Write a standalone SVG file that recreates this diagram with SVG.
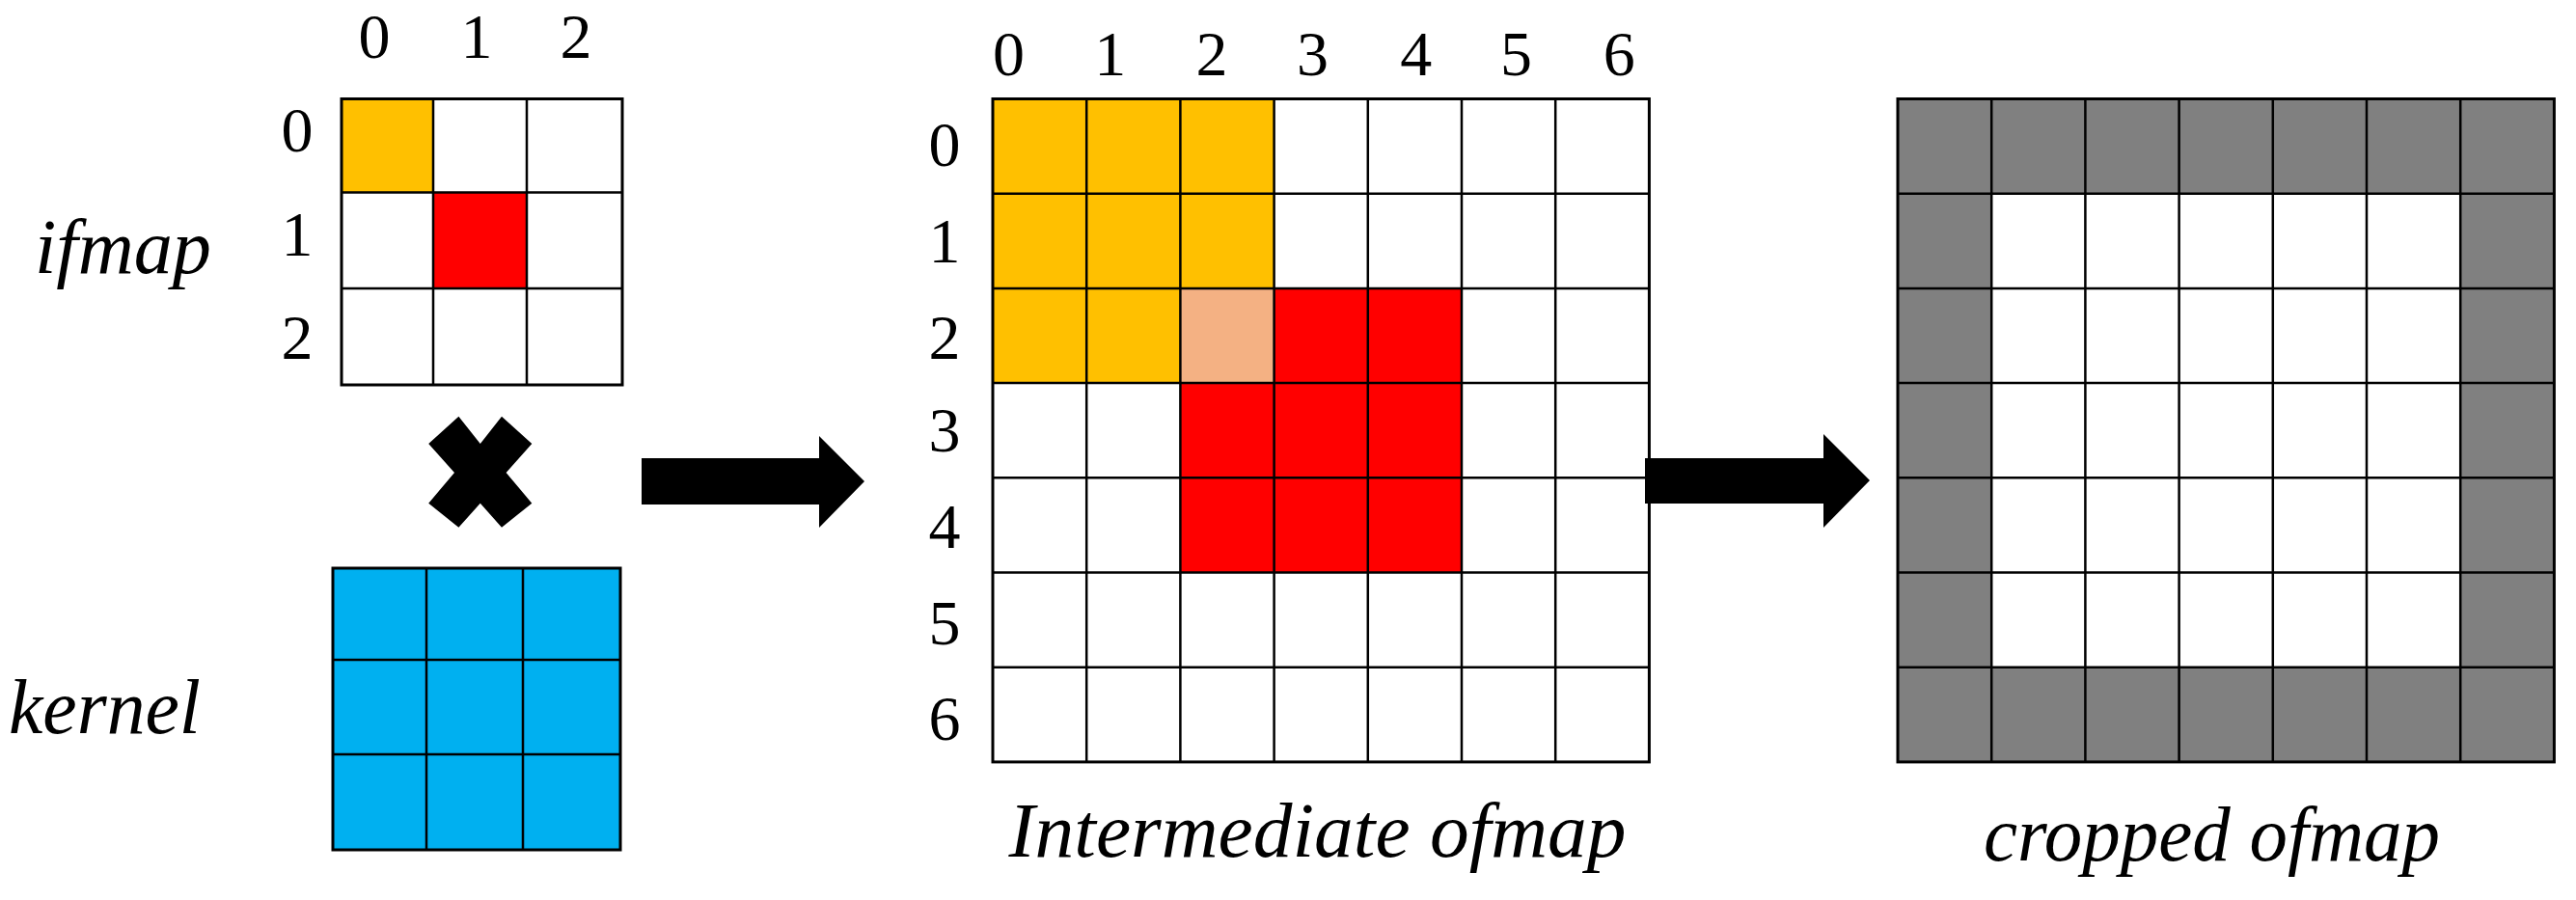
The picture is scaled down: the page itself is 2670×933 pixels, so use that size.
<svg xmlns="http://www.w3.org/2000/svg" width="2670" height="933" viewBox="0 0 2670 933">
<style>
.num{font-family:"Liberation Serif","DejaVu Serif",serif;font-size:66px;fill:#000;text-anchor:middle}
.lbl{font-family:"Liberation Serif","DejaVu Serif",serif;font-style:italic;font-size:80px;fill:#000}
.grid{fill:none;stroke:#000;stroke-width:2.5}
.outer{fill:none;stroke:#000;stroke-width:3}
.org{fill:#FFC000}
.red{fill:#FF0000}
.peach{fill:#F4B183}
.blue{fill:#00B0F0}
.gray{fill:#808080}
.white{fill:#FFFFFF}
.arrow{fill:#000}
</style>
<rect width="2670" height="933" fill="#fff"/>

<g id="ifmap">
  <text class="lbl" x="36" y="283" textLength="183" lengthAdjust="spacingAndGlyphs">ifmap</text>
  <text class="num" x="388" y="60">0</text>
  <text class="num" x="494" y="60">1</text>
  <text class="num" x="597" y="60">2</text>
  <text class="num" x="308" y="157">0</text>
  <text class="num" x="308" y="265">1</text>
  <text class="num" x="308" y="372">2</text>
  <rect class="white" x="354" y="102.5" width="291" height="296.5"/>
  <rect class="org" x="354" y="102.5" width="95" height="97"/>
  <rect class="red" x="449" y="199.5" width="97" height="99.5"/>
  <path class="grid" d="M449 102.5V399 M546 102.5V399 M354 199.5H645 M354 299H645"/>
  <rect class="outer" x="354" y="102.5" width="291" height="296.5"/>
</g>

<g id="multiply">
  <polygon class="arrow" points="475.4,431.7 444.2,460 471,490 444.2,521.7 475.4,546.7 497.8,521.7 520,546.7 551.3,521.7 524.6,490 551.3,460 520,431.7 497.8,460"/>
</g>

<g id="kernel">
  <text class="lbl" x="9" y="760" textLength="199" lengthAdjust="spacingAndGlyphs">kernel</text>
  <rect class="blue" x="345" y="589" width="298" height="292"/>
  <path class="grid" d="M442 589V881 M542 589V881 M345 684H643 M345 782H643"/>
  <rect class="outer" x="345" y="589" width="298" height="292"/>
</g>

<g id="intermediate-ofmap">
  <text class="num" x="1045.5" y="78">0</text>
  <text class="num" x="1150.7" y="78">1</text>
  <text class="num" x="1256" y="78">2</text>
  <text class="num" x="1360.5" y="78">3</text>
  <text class="num" x="1467.8" y="78">4</text>
  <text class="num" x="1571.6" y="78">5</text>
  <text class="num" x="1678.2" y="78">6</text>
  <text class="num" x="979" y="172">0</text>
  <text class="num" x="979" y="272">1</text>
  <text class="num" x="979" y="372">2</text>
  <text class="num" x="979" y="468">3</text>
  <text class="num" x="979" y="568">4</text>
  <text class="num" x="979" y="668">5</text>
  <text class="num" x="979" y="767">6</text>
  <rect class="white" x="1029" y="102.5" width="680.4" height="687.4"/>
  <rect class="org" x="1029" y="102.5" width="291.6" height="196.4"/>
  <rect class="org" x="1029" y="298.9" width="194.4" height="98.2"/>
  <rect class="peach" x="1223.4" y="298.9" width="97.2" height="98.2"/>
  <rect class="red" x="1320.6" y="298.9" width="194.4" height="98.2"/>
  <rect class="red" x="1223.4" y="397.1" width="291.6" height="196.4"/>
  <path class="grid" d="M1126.2 102.5V789.9 M1223.4 102.5V789.9 M1320.6 102.5V789.9 M1417.8 102.5V789.9 M1515 102.5V789.9 M1612.2 102.5V789.9 M1029 200.7H1709.4 M1029 298.9H1709.4 M1029 397.1H1709.4 M1029 495.3H1709.4 M1029 593.5H1709.4 M1029 691.7H1709.4"/>
  <rect class="outer" x="1029" y="102.5" width="680.4" height="687.4"/>
  <text class="lbl" x="1045.5" y="888" textLength="640" lengthAdjust="spacingAndGlyphs">Intermediate ofmap</text>
</g>

<g id="cropped-ofmap">
  <rect class="gray" x="1967" y="102.5" width="680.4" height="687.4"/>
  <rect class="white" x="2064.2" y="200.7" width="486" height="491"/>
  <path class="grid" d="M2064.2 102.5V789.9 M2161.4 102.5V789.9 M2258.6 102.5V789.9 M2355.8 102.5V789.9 M2453 102.5V789.9 M2550.2 102.5V789.9 M1967 200.7H2647.4 M1967 298.9H2647.4 M1967 397.1H2647.4 M1967 495.3H2647.4 M1967 593.5H2647.4 M1967 691.7H2647.4"/>
  <rect class="outer" x="1967" y="102.5" width="680.4" height="687.4"/>
  <text class="lbl" x="2056" y="892" textLength="473" lengthAdjust="spacingAndGlyphs">cropped ofmap</text>
</g>

<g id="connectors">
  <polygon class="arrow" points="665,475 849,475 849,452 896,499 849,547 849,523 665,523"/>
  <polygon class="arrow" points="1705,475 1890,475 1890,450 1938,498 1890,547 1890,522 1705,522"/>
</g>
</svg>
